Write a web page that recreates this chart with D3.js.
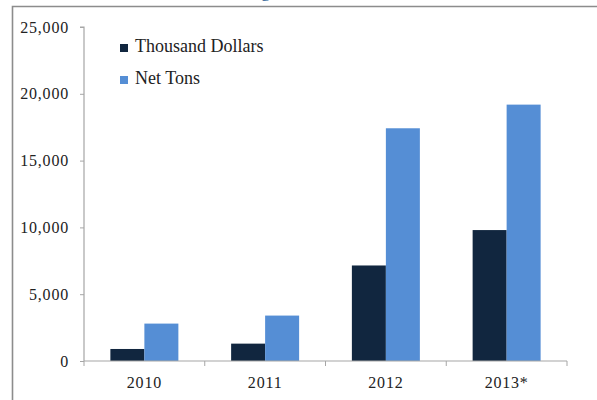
<!DOCTYPE html>
<html>
<head>
<meta charset="utf-8">
<script src="https://cdn.jsdelivr.net/npm/d3@7"></script>
<style>
  body { margin: 0; background: #fff; }
  svg { display: block; }
  text { font-family: "Liberation Serif", "Times New Roman", serif; }
</style>
</head>
<body>
<div id="chart"></div>
<script>
// data
const years = ["2010", "2011", "2012", "2013*"];
const seriesNames = ["Thousand Dollars", "Net Tons"];
const thousandDollars = [900, 1300, 7150, 9800];
const netTons = [2800, 3400, 17420, 19190];
const yTicks = [0, 5000, 10000, 15000, 20000, 25000];

const colors = { "Thousand Dollars": "#11263f", "Net Tons": "#558ed5" };
const serif = '"Liberation Serif", "Times New Roman", serif';

const W = 597, H = 400;
const plot = { left: 84, right: 567, top: 27, bottom: 361 };

const svg = d3.select("#chart")
    .append("svg")
    .attr("width", W)
    .attr("height", H);

// outer frame (runs off the right and bottom edge)
svg.append("path")
    .attr("d", `M12.5,${H + 5} L12.5,6.5 L${W + 5},6.5`)
    .attr("fill", "none")
    .attr("stroke", "#8c8c8c")
    .attr("stroke-width", 1.6);

// descender of the cut-off title
svg.append("text")
    .attr("x", 261)
    .attr("y", -3)
    .style("font-family", serif)
    .style("font-size", "18px")
    .attr("fill", "#2f5f94")
    .text("g");

// scales
const x0 = d3.scaleBand()
    .domain(years)
    .range([plot.left, plot.right])
    .paddingInner(0)
    .paddingOuter(0);

const x1 = d3.scaleBand()
    .domain(seriesNames)
    .range([0, x0.bandwidth()])
    .paddingInner(0)
    .paddingOuter(0.776);

const y = d3.scaleLinear()
    .domain([0, 25000])
    .range([plot.bottom, plot.top]);

const rows = years.map((yr, i) => ({
    year: yr,
    values: [
        { key: "Thousand Dollars", value: thousandDollars[i] },
        { key: "Net Tons", value: netTons[i] }
    ]
}));

// bars
svg.append("g")
    .selectAll("g")
    .data(rows)
    .join("g")
    .attr("transform", d => `translate(${x0(d.year)},0)`)
    .selectAll("rect")
    .data(d => d.values)
    .join("rect")
    .attr("x", d => x1(d.key))
    .attr("width", x1.bandwidth())
    .attr("y", d => y(d.value))
    .attr("height", d => y(0) - y(d.value))
    .attr("fill", d => colors[d.key]);

// y axis
const yAxis = svg.append("g")
    .attr("transform", `translate(${plot.left},0)`)
    .call(d3.axisLeft(y)
        .tickValues(yTicks)
        .tickSize(4)
        .tickPadding(11)
        .tickFormat(d3.format(",")));

// x axis
const xAxis = svg.append("g")
    .attr("transform", `translate(0,${plot.bottom})`)
    .call(d3.axisBottom(x0).tickSize(0).tickPadding(16));

// category boundary ticks
xAxis.selectAll(".bound")
    .data(years.map(d => x0(d)).concat([plot.right]))
    .join("line")
    .attr("class", "bound")
    .attr("x1", d => d).attr("x2", d => d)
    .attr("y1", 0).attr("y2", 5)
    .attr("stroke", "#a6a6a6");

[yAxis, xAxis].forEach(ax => {
    ax.attr("font-family", null);
    ax.select(".domain").attr("stroke", "#a6a6a6").attr("stroke-width", 1.2);
    ax.selectAll(".tick line").attr("stroke", "#a6a6a6");
    ax.selectAll(".tick text")
        .attr("fill", "#222")
        .style("font-family", serif)
        .style("font-size", "16px")
        .style("letter-spacing", "0.8px");
});
yAxis.select(".domain").attr("d", `M-4,${plot.top}H0V${plot.bottom}`);
xAxis.select(".domain").attr("d", `M${plot.left},0H${plot.right}`);

// legend
const legend = svg.append("g")
    .selectAll("g")
    .data(seriesNames)
    .join("g")
    .attr("transform", (d, i) => `translate(120,${52 + i * 32})`);

legend.append("rect")
    .attr("x", 0)
    .attr("y", -8)
    .attr("width", 8)
    .attr("height", 8)
    .attr("fill", d => colors[d]);

legend.append("text")
    .attr("x", 15)
    .attr("y", 0)
    .style("font-family", serif)
    .style("font-size", "18px")
    .attr("fill", "#222")
    .text(d => d);
</script>
</body>
</html>
